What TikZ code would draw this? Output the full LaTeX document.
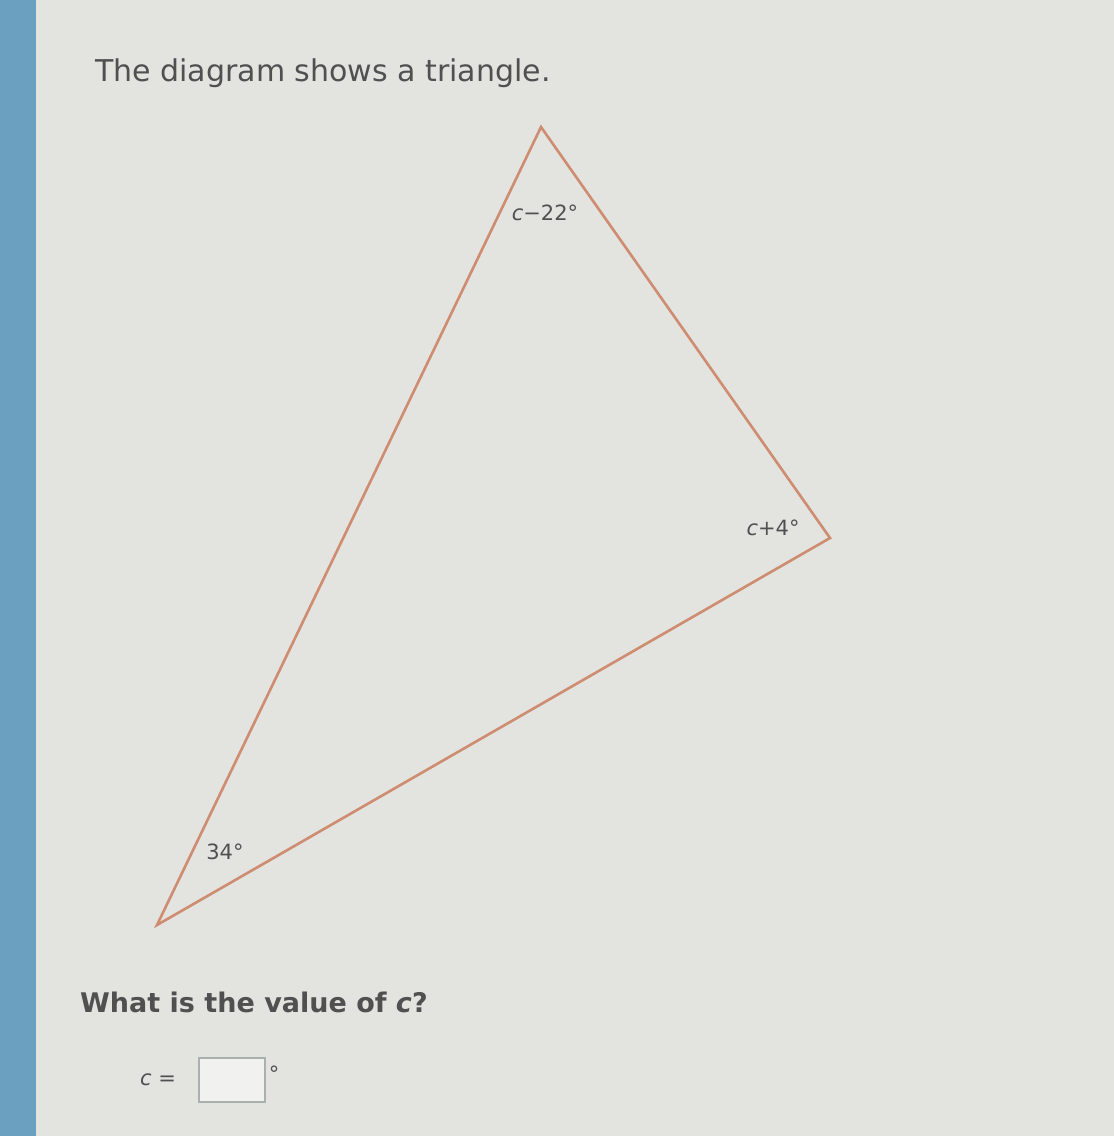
\documentclass[tikz,border=0pt]{standalone}
\usepackage{fontspec}
\setmainfont{DejaVu Sans}
\definecolor{bg}{RGB}{227,227,224}
\definecolor{strip}{RGB}{108,160,192}
\definecolor{edge}{RGB}{206,140,112}
\definecolor{txt}{RGB}{80,80,80}
\definecolor{boxc}{RGB}{170,175,175}
\tikzset{
  lbl/.style={text=txt, font=\fontsize{21}{24}\selectfont, inner sep=0pt},
  body/.style={text=txt, font=\fontsize{30}{36}\selectfont, inner sep=0pt, anchor=base west},
  tri/.style={draw=edge, line width=2.6pt, line join=miter},
}
\begin{document}
\begin{tikzpicture}[x=1pt,y=-1pt]
\fill[bg] (0,0) rectangle (1114,1136);
\useasboundingbox (0,0) rectangle (1114,1136);
\fill[strip] (0,0) rectangle (36,1136);
\node[body] (title) at (95,81) {The diagram shows a triangle.};
\coordinate (A) at (541,127);
\coordinate (B) at (830,538);
\coordinate (C) at (157,925);
\draw[tri] (A) -- (B) -- (C) -- cycle;
\node[lbl] (la) at (545,213) {\textit{c}−22°};
\node[lbl] (lb) at (773,528) {\textit{c}+4°};
\node[lbl] (lc) at (225,852) {34°};
\node[body, font=\bfseries\fontsize{27}{32}\selectfont, text=txt] (q) at (80,1012) {What is the value of \textit{c}?};
\node[lbl, anchor=center] (ceq) at (158,1080) {\textit{c} =};
\node[draw=boxc, line width=1.5pt, fill=white!50!bg, minimum width=66pt, minimum height=44pt, inner sep=0pt] (ans) at (232,1080) {};
\node[lbl, anchor=north west, xshift=3pt, yshift=-8pt] (deg) at (ans.north east) {°};
\end{tikzpicture}
\end{document}
